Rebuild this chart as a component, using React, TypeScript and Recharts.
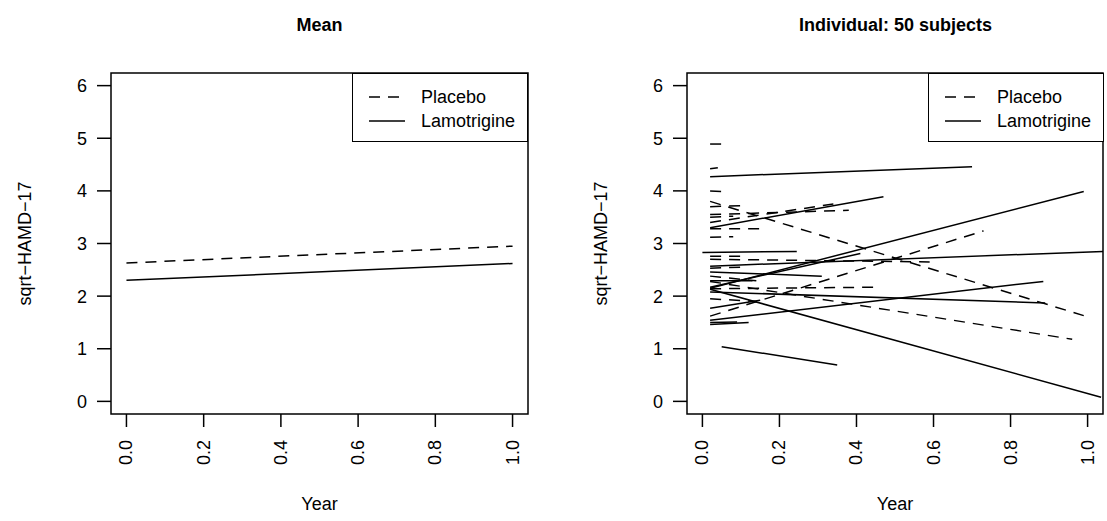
import React from "react";
import { Label, Line, LineChart, ReferenceArea, XAxis, YAxis } from "recharts";

const yearTicks = [0, 0.2, 0.4, 0.6, 0.8, 1.0];
const scoreTicks = [0, 1, 2, 3, 4, 5, 6];

const meanYears = [0, 1];
const meanPlacebo = [2.63, 2.95];
const meanLamotrigine = [2.3, 2.62];

// one row per subject: [first year, first score, last year, last score]
const placeboSubjects = [
  [0.02, 4.89, 0.05, 4.89],
  [0.02, 4.42, 0.04, 4.44],
  [0.02, 4.0, 0.05, 3.99],
  [0.02, 3.8, 0.99, 1.63],
  [0.02, 1.62, 0.73, 3.24],
  [0.02, 2.28, 0.96, 1.18],
  [0.02, 2.14, 0.46, 2.17],
  [0.02, 2.7, 0.59, 2.65],
  [0.02, 3.55, 0.38, 3.63],
  [0.02, 3.4, 0.34, 3.75],
  [0.02, 3.28, 0.15, 3.28],
  [0.02, 3.12, 0.08, 3.13],
  [0.02, 3.7, 0.1, 3.72],
  [0.02, 2.38, 0.14, 2.29],
  [0.02, 2.53, 0.1, 2.55],
  [0.02, 1.95, 0.14, 1.9],
  [0.02, 2.76, 0.1, 2.76],
  [0.02, 3.5, 0.08, 3.52],
];

const lamotrigineSubjects = [
  [0.02, 4.27, 0.7, 4.46],
  [0.02, 3.3, 0.47, 3.89],
  [0.02, 2.15, 0.99, 3.99],
  [0.02, 2.17, 0.41, 2.81],
  [0.0, 2.83, 0.245, 2.85],
  [0.02, 2.57, 1.04, 2.85],
  [0.02, 2.46, 0.31, 2.38],
  [0.02, 2.08, 0.89, 1.87],
  [0.02, 2.13, 1.035, 0.08],
  [0.02, 1.77, 0.15, 1.92],
  [0.02, 1.54, 0.885, 2.28],
  [0.02, 1.46, 0.12, 1.5],
  [0.02, 1.5, 0.09, 1.51],
  [0.05, 1.04, 0.35, 0.69],
  [0.02, 2.29, 0.13, 2.29],
];

const X_DOMAIN: [number, number] = [-0.04, 1.04];
const Y_DOMAIN: [number, number] = [-0.24, 6.24];
const FONT = "'Liberation Sans', Arial, Helvetica, sans-serif";
const FS = 18;
const DASH = "11 8";

const meanData = meanYears.map((x, i) => ({ x, placebo: meanPlacebo[i], lamo: meanLamotrigine[i] }));
const toSegment = (s: number[]) => [
  { x: s[0], y: s[1] },
  { x: s[2], y: s[3] },
];

function YearTick(props: any) {
  const { x, y, payload } = props;
  return (
    <text x={x} y={y} transform={`rotate(-90 ${x} ${y})`} textAnchor="end" dominantBaseline="central" fontSize={FS} fontFamily={FONT} fill="#000">
      {Number(payload.value).toFixed(1)}
    </text>
  );
}

function YLab(props: any) {
  const vb = props.viewBox;
  const cx = vb.x + 25;
  const cy = vb.y + vb.height / 2;
  return (
    <text x={cx} y={cy} transform={`rotate(-90 ${cx} ${cy})`} textAnchor="middle" dominantBaseline="central" fontSize={FS} fontFamily={FONT} fill="#000">
      sqrt−HAMD−17
    </text>
  );
}

function XLab(props: any) {
  const vb = props.viewBox;
  return (
    <text x={vb.x + vb.width / 2} y={vb.y + 96} textAnchor="middle" fontSize={FS} fontFamily={FONT} fill="#000">
      Year
    </text>
  );
}

function LegendBox({ left }: { left: number }) {
  const row = (label: string, dashed: boolean, cy: number) => (
    <div style={{ position: "absolute", left: 0, top: cy - 12, height: 24, width: "100%" }}>
      <svg width={40} height={24} style={{ position: "absolute", left: 16, top: 0 }}>
        <line x1={0} y1={12} x2={36} y2={12} stroke="#000" strokeWidth={1.5} strokeDasharray={dashed ? DASH : undefined} />
      </svg>
      <span style={{ position: "absolute", left: 68, top: 0, lineHeight: "24px", fontSize: FS, fontFamily: FONT, whiteSpace: "nowrap" }}>{label}</span>
    </div>
  );
  return (
    <div style={{ position: "absolute", left, top: 73, width: 176, height: 69, border: "1.5px solid #000", boxSizing: "border-box", background: "#fff" }}>
      {row("Placebo", true, 23)}
      {row("Lamotrigine", false, 47)}
    </div>
  );
}

function Panel({ left, width, title, children }: { left: number; width: number; title: string; children: React.ReactNode }) {
  return (
    <div style={{ position: "absolute", left, top: 0, width, height: 521 }}>
      <div style={{ position: "absolute", left: 111, width: 417, top: 13, height: 24, lineHeight: "24px", textAlign: "center", fontWeight: "bold", fontSize: 18, fontFamily: FONT }}>
        {title}
      </div>
      {children}
    </div>
  );
}

function axisParts() {
  return [
    <XAxis
      key="x"
      dataKey="x"
      type="number"
      domain={X_DOMAIN}
      ticks={yearTicks}
      allowDataOverflow
      height={107}
      axisLine={false}
      tickLine={{ stroke: "#000", strokeWidth: 1.5 }}
      tickSize={13}
      tickMargin={13}
      tick={<YearTick />}
      interval={0}
    >
      <Label content={<XLab />} />
    </XAxis>,
    <YAxis
      key="y"
      type="number"
      domain={Y_DOMAIN}
      ticks={scoreTicks}
      allowDataOverflow
      width={111}
      axisLine={false}
      tickLine={{ stroke: "#000", strokeWidth: 1.5 }}
      tickSize={14}
      tickMargin={10}
      tick={{ fontSize: FS, fontFamily: FONT, fill: "#000" }}
      interval={0}
    >
      <Label content={<YLab />} />
    </YAxis>,
    <ReferenceArea key="box" x1={X_DOMAIN[0]} x2={X_DOMAIN[1]} y1={Y_DOMAIN[0]} y2={Y_DOMAIN[1]} fill="none" stroke="#000" strokeWidth={1.5} ifOverflow="visible" />,
  ];
}

export default function App() {
  return (
    <div style={{ position: "absolute", left: 0, top: 0, width: 1107, height: 521, overflow: "hidden", background: "#fff" }}>
      <Panel left={0} width={553} title="Mean">
        <LineChart width={553} height={521} data={meanData} margin={{ top: 73, right: 25, bottom: 0, left: 0 }}>
          {axisParts()}
          <Line dataKey="placebo" stroke="#000" strokeWidth={1.5} strokeDasharray={DASH} dot={false} activeDot={false} isAnimationActive={false} />
          <Line dataKey="lamo" stroke="#000" strokeWidth={1.5} dot={false} activeDot={false} isAnimationActive={false} />
        </LineChart>
        <LegendBox left={352} />
      </Panel>
      <Panel left={576} width={531} title="Individual: 50 subjects">
        <LineChart width={531} height={521} margin={{ top: 73, right: 4, bottom: 0, left: 0 }}>
          {axisParts()}
          {placeboSubjects.map((s, i) => (
            <Line key={`p${i}`} data={toSegment(s)} dataKey="y" stroke="#000" strokeWidth={1.5} strokeDasharray={DASH} dot={false} activeDot={false} isAnimationActive={false} />
          ))}
          {lamotrigineSubjects.map((s, i) => (
            <Line key={`l${i}`} data={toSegment(s)} dataKey="y" stroke="#000" strokeWidth={1.5} dot={false} activeDot={false} isAnimationActive={false} />
          ))}
        </LineChart>
        <LegendBox left={352} />
      </Panel>
    </div>
  );
}
